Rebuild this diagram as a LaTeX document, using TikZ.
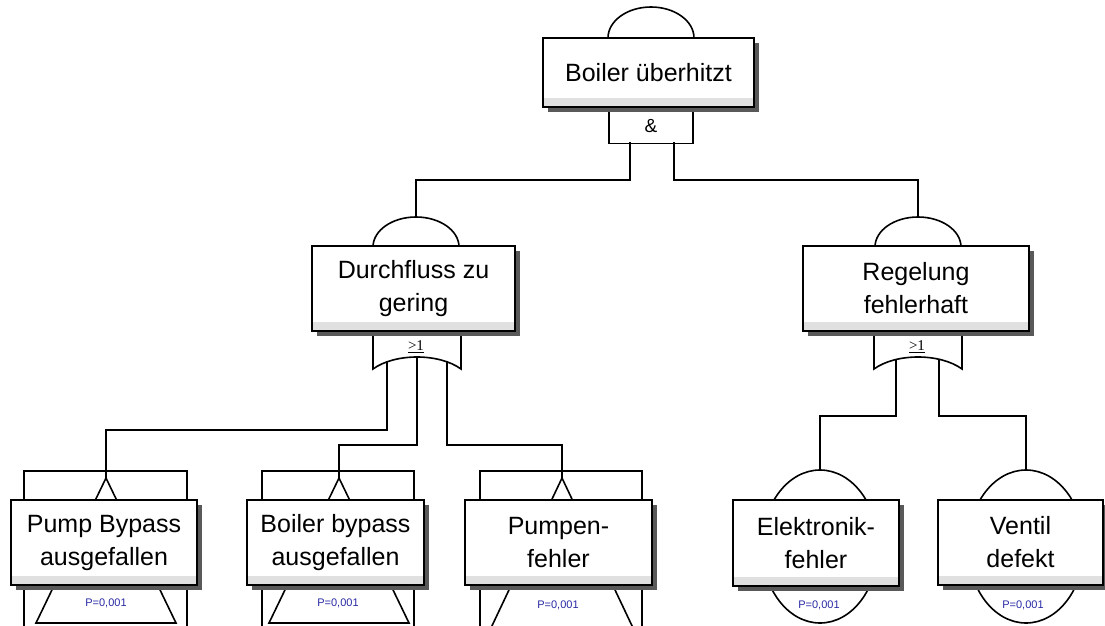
\documentclass[tikz,border=0pt]{standalone}
\usepackage{fontspec}
\setmainfont{Liberation Sans}
\newfontfamily\gatefont{Liberation Serif}
\usetikzlibrary{shadows}
\definecolor{pblue}{RGB}{40,40,165}

\begin{document}
\begin{tikzpicture}[x=1pt,y=-1pt]
	\tikzstyle{ev_box}=[draw, rectangle, line width=1.6pt, fill=white, align=center, inner sep=0pt,
		font=\fontsize{25}{33}\selectfont,
		drop shadow={shadow xshift=5pt, shadow yshift=-5pt, fill=black!65, opacity=1},
		path picture={\fill[black!12] (path picture bounding box.south west) rectangle ([yshift=9pt]path picture bounding box.south east);}];
	\tikzstyle{ln}=[line width=1.6pt];
	\tikzstyle{prob}=[text=pblue, font=\fontsize{11}{12}\selectfont, inner sep=0pt];
	\tikzstyle{or_lbl}=[font=\gatefont\fontsize{15}{16}\selectfont, inner sep=0pt];

	\useasboundingbox (0,0) rectangle (1105,626);
	\clip (0,0) rectangle (1105,626);

	% frames and triangles behind the bottom events
	\draw[ln] (24,630) |- (187,471) -- (187,630);
	\draw[ln] (262,630) |- (414,471) -- (414,630);
	\draw[ln] (480,630) |- (642,471) -- (642,630);
	\draw[ln] (106,478) -- (36,623) -- (176,623) -- cycle;
	\draw[ln] (339,478) -- (269,623) -- (409,623) -- cycle;
	\draw[ln] (562,478) -- (490,630) -- (634,630) -- cycle;
	\draw[ln] (820,546.5) ellipse [x radius=58, y radius=76.5];
	\draw[ln] (1026,546.5) ellipse [x radius=58, y radius=76.5];

	% domes
	\draw[ln] (608,38) arc[start angle=180, end angle=360, x radius=43, y radius=31];
	\draw[ln] (373,247) arc[start angle=180, end angle=360, x radius=43, y radius=30];
	\draw[ln] (875,247) arc[start angle=180, end angle=360, x radius=43, y radius=30];
	\coordinate (df_in) at (416,217);
	\coordinate (rg_in) at (918,217);

	% gates
	\node[draw, ln, rectangle, fill=white, minimum width=84pt, minimum height=35pt, inner sep=0pt,
		font=\fontsize{19}{20}\selectfont] (g_and) at (651,126) {\&};
	\coordinate (and_l) at (630,142);
	\coordinate (and_r) at (674,142);

	\draw[ln] (373,331) -- (373,369) .. controls (395,353) and (439,353) .. (461,369) -- (461,331);
	\node[or_lbl] (g_or1) at (416,347) {\underline{>1}};
	\draw[ln] (874,331) -- (874,369) .. controls (896,353) and (940,353) .. (962,369) -- (962,331);
	\node[or_lbl] (g_or2) at (917,347) {\underline{>1}};
	\coordinate (or1_a) at (387,361);
	\coordinate (or1_b) at (417,357);
	\coordinate (or1_c) at (447,361);
	\coordinate (or2_a) at (896,360);
	\coordinate (or2_b) at (939,360);

	% event inputs
	\coordinate (pb_in) at (106,478);
	\coordinate (bb_in) at (339,478);
	\coordinate (pf_in) at (562,478);
	\coordinate (ef_in) at (820,470);
	\coordinate (vd_in) at (1026,470);

	% connectors
	\draw[ln] (and_l) -- ++(0,38) -| (df_in);
	\draw[ln] (and_r) -- ++(0,38) -| (rg_in);
	\draw[ln] (or1_a) -- ++(0,69) -| (pb_in);
	\draw[ln] (or1_b) -- ++(0,88) -| (bb_in);
	\draw[ln] (or1_c) -- ++(0,84) -| (pf_in);
	\draw[ln] (or2_a) -- ++(0,56) -| (ef_in);
	\draw[ln] (or2_b) -- ++(0,56) -| (vd_in);

	% events
	\node[ev_box, minimum width=211pt, minimum height=69pt] (ev_top) at (648.5,72.5) {Boiler überhitzt};
	\node[ev_box, minimum width=203pt, minimum height=85pt] (ev_df) at (413.5,288.5) {Durchfluss zu\\gering};
	\node[ev_box, minimum width=226pt, minimum height=85pt] (ev_rg) at (916,288.5) {Regelung\\fehlerhaft};
	\node[ev_box, minimum width=186pt, minimum height=85pt] (ev_pb) at (104,542.5) {Pump Bypass\\ausgefallen};
	\node[ev_box, minimum width=177pt, minimum height=85pt] (ev_bb) at (335.5,542.5) {Boiler bypass\\ausgefallen};
	\node[ev_box, minimum width=187pt, minimum height=85pt] (ev_pf) at (558.5,542.5) {Pumpen-\\fehler};
	\node[ev_box, minimum width=166pt, minimum height=86pt] (ev_ef) at (816,543) {Elektronik-\\fehler};
	\node[ev_box, minimum width=165pt, minimum height=85pt] (ev_vd) at (1020.5,542.5) {Ventil\\defekt};

	% probabilities
	\node[prob] (p_pb) at (106,603) {P=0,001};
	\node[prob] (p_bb) at (338,603) {P=0,001};
	\node[prob] (p_pf) at (558,605) {P=0,001};
	\node[prob] (p_ef) at (819,605) {P=0,001};
	\node[prob] (p_vd) at (1023,605) {P=0,001};
\end{tikzpicture}
\end{document}
